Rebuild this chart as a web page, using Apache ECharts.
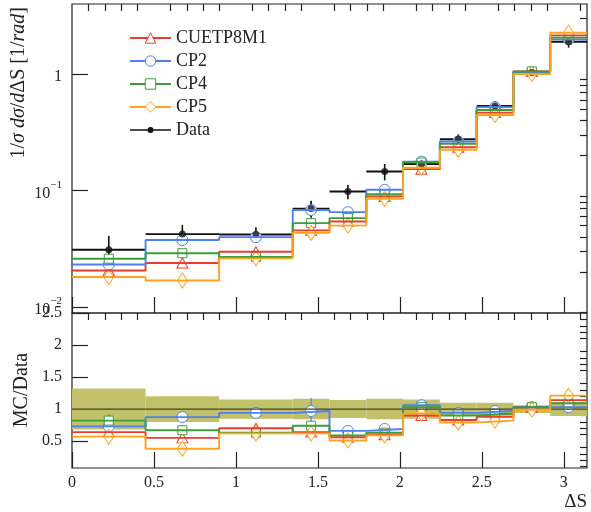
<!DOCTYPE html>
<html><head><meta charset="utf-8">
<script src="https://cdn.jsdelivr.net/npm/echarts@6/dist/echarts.min.js"></script>
<style>html,body{margin:0;padding:0;background:#fff}#c{width:591px;height:512px}</style>
</head><body><div id="c"></div>
<script>
const PI = Math.PI;
// bin edges of ΔS (0 .. π)
const binEdges = [0, PI/7, 2*PI/7, 3*PI/7, 7*PI/14, 8*PI/14, 9*PI/14, 10*PI/14, 11*PI/14, 12*PI/14, 13*PI/14, PI];
const seriesNames = ['CUETP8M1', 'CP2', 'CP4', 'CP5'];
// normalised cross sections (top panel)
const dataVals    = [0.0310, 0.0423, 0.0420, 0.0700, 0.0980, 0.1455, 0.1690, 0.2755, 0.532, 1.03, 1.89];
const dataRelErr  = [0.32, 0.20, 0.15, 0.16, 0.14, 0.16, 0.15, 0.10, 0.10, 0.06, 0.11];
const valCUETP8M1 = [0.0206, 0.0239, 0.0298, 0.0455, 0.0543, 0.0890, 0.1525, 0.235, 0.466, 1.05, 2.14];
const valCP2      = [0.0232, 0.0376, 0.0398, 0.0680, 0.0653, 0.1014, 0.1770, 0.263, 0.519, 1.04, 1.98];
const valCP4      = [0.0260, 0.0290, 0.0269, 0.0525, 0.0580, 0.0930, 0.1740, 0.2515, 0.491, 1.05, 2.05];
const valCP5      = [0.0181, 0.0169, 0.0262, 0.0434, 0.0500, 0.0849, 0.1570, 0.2235, 0.445, 1.00, 2.26];
// MC / Data ratios (bottom panel)
const ratioCUETP8M1 = [0.64, 0.55, 0.70, 0.64, 0.56, 0.60, 0.90, 0.83, 0.88, 1.03, 1.14];
const ratioCP2      = [0.73, 0.875, 0.94, 0.97, 0.66, 0.69, 1.06, 0.94, 0.97, 1.03, 1.03];
const ratioCP4      = [0.82, 0.67, 0.63, 0.74, 0.59, 0.63, 1.03, 0.90, 0.93, 1.03, 1.09];
const ratioCP5      = [0.57, 0.38, 0.62, 0.62, 0.51, 0.59, 0.93, 0.79, 0.82, 0.99, 1.21];
// MC statistical relative errors
const errCUETP8M1 = [0.04, 0.05, 0.05, 0.05, 0.03, 0.03, 0.03, 0.02, 0.02, 0.02, 0.02];
const errCP2      = [0.05, 0.10, 0.07, 0.21, 0.04, 0.04, 0.03, 0.02, 0.02, 0.02, 0.02];
const errCP4      = [0.12, 0.05, 0.05, 0.05, 0.04, 0.03, 0.03, 0.02, 0.02, 0.02, 0.02];
const errCP5      = [0.05, 0.05, 0.05, 0.05, 0.04, 0.04, 0.03, 0.03, 0.02, 0.02, 0.02];
// tick values
const xMajorTicks = [0, 0.5, 1, 1.5, 2, 2.5, 3];
const xMinorTicks = [0.1,0.2,0.3,0.4,0.6,0.7,0.8,0.9,1.1,1.2,1.3,1.4,1.6,1.7,1.8,1.9,2.1,2.2,2.3,2.4,2.6,2.7,2.8,2.9,3.1];
const yTopMajor = [0.01, 0.1, 1];
const yTopMinor = [0.009, 0.02,0.03,0.04,0.05,0.06,0.07,0.08,0.09, 0.2,0.3,0.4,0.5,0.6,0.7,0.8,0.9, 2,3];
const yTopRange = [0.0089, 3.98];
const yRatioMajor = [0.5, 1, 1.5, 2, 2.5];
const yRatioMinor = [0.1,0.2,0.3,0.4,0.6,0.7,0.8,0.9,1.1,1.2,1.3,1.4,1.6,1.7,1.8,1.9,2.1,2.2,2.3,2.4];
const yRatioRange = [0.08, 2.5];

const colors = ['#ee3b2b', '#4f80f2', '#3a9e3a', '#ffa31f'];
const symbols = ['triangle', 'circle', 'rect', 'diamond'];
const symSizes = [[11,10], 11, 9, [10,15]];
const mcVals = [valCUETP8M1, valCP2, valCP4, valCP5];
const mcRatios = [ratioCUETP8M1, ratioCP2, ratioCP4, ratioCP5];
const mcErrs = [errCUETP8M1, errCP2, errCP4, errCP5];

const FONT = 'Liberation Serif';
const L = Math.log10;
const nb = dataVals.length;
const centers = dataVals.map((v, i) => (binEdges[i] + binEdges[i + 1]) / 2);
const stepData = (vals, f) => binEdges.map((e, i) => [e, f(vals[Math.min(i, nb - 1)])]);

function errBarSeries(vals, errs, f, color, xi, yi, width) {
  return {
    type: 'custom', xAxisIndex: xi, yAxisIndex: yi, clip: true, silent: true,
    data: vals.map((v, i) => [centers[i], f(v * (1 - errs[i])), f(v * (1 + errs[i]))]),
    encode: { x: 0, y: [1, 2] },
    renderItem: (p, api) => {
      const a = api.coord([api.value(0), api.value(1)]);
      const b = api.coord([api.value(0), api.value(2)]);
      return { type: 'line', shape: { x1: a[0], y1: a[1], x2: b[0], y2: b[1] }, style: { stroke: color, lineWidth: width } };
    }
  };
}

const series = [];
// ---- top panel
mcVals.forEach((vals, k) => {
  series.push({
    name: seriesNames[k], type: 'line', step: 'end', xAxisIndex: 0, yAxisIndex: 0,
    data: stepData(vals, L), symbol: symbols[k], showSymbol: false, silent: true,
    lineStyle: { color: colors[k], width: 1.9 },
    itemStyle: { color: '#fff', borderColor: colors[k], borderWidth: 1 }
  });
});
mcVals.forEach((vals, k) => {
  series.push(errBarSeries(vals, mcErrs[k], L, colors[k], 0, 0, 1.2));
  series.push({
    name: seriesNames[k] + ' pts', type: 'scatter', xAxisIndex: 0, yAxisIndex: 0, silent: true,
    data: vals.map((v, i) => [centers[i], L(v)]), symbol: symbols[k], symbolSize: symSizes[k],
    itemStyle: { color: '#fff', borderColor: colors[k], borderWidth: 1, opacity: 1 }
  });
});
series.push({
  type: 'custom', xAxisIndex: 0, yAxisIndex: 0, clip: true, silent: true,
  data: dataVals.map((v, i) => [binEdges[i], binEdges[i + 1], centers[i], L(v), L(v * (1 - dataRelErr[i])), L(v * (1 + dataRelErr[i]))]),
  encode: { x: [0, 1, 2], y: [3, 4, 5] },
  renderItem: (p, api) => {
    const a = api.coord([api.value(0), api.value(3)]), b = api.coord([api.value(1), api.value(3)]);
    const lo = api.coord([api.value(2), api.value(4)]), hi = api.coord([api.value(2), api.value(5)]);
    return { type: 'group', children: [
      { type: 'line', shape: { x1: a[0], y1: a[1], x2: b[0], y2: b[1] }, style: { stroke: '#111', lineWidth: 1.9 } },
      { type: 'line', shape: { x1: lo[0], y1: lo[1], x2: hi[0], y2: hi[1] }, style: { stroke: '#111', lineWidth: 1.6 } }
    ] };
  }
});
series.push({
  name: 'Data pts', type: 'scatter', xAxisIndex: 0, yAxisIndex: 0, silent: true,
  data: dataVals.map((v, i) => [centers[i], L(v)]), symbol: 'circle', symbolSize: 7,
  itemStyle: { color: '#111' }
});
// ---- ratio panel
const lin = v => v;
series.push({
  type: 'custom', xAxisIndex: 2, yAxisIndex: 2, clip: true, silent: true,
  data: dataRelErr.map((e, i) => [binEdges[i], binEdges[i + 1], 1 - e, 1 + e]),
  encode: { x: [0, 1], y: [2, 3] },
  renderItem: (p, api) => {
    const a = api.coord([api.value(0), api.value(3)]), b = api.coord([api.value(1), api.value(2)]);
    return { type: 'rect', shape: { x: a[0], y: a[1], width: b[0] - a[0], height: b[1] - a[1] }, style: { fill: '#c3c06a' } };
  }
});
series.push({
  name: 'Data', type: 'line', step: 'end', xAxisIndex: 2, yAxisIndex: 2, silent: true,
  data: stepData(dataVals.map(v => v / v), lin), symbol: 'circle', showSymbol: false,
  lineStyle: { color: '#44422a', width: 1.3 }, itemStyle: { color: '#111' }
});
mcRatios.forEach((vals, k) => {
  series.push({
    name: seriesNames[k] + ' ratio', type: 'line', step: 'end', xAxisIndex: 2, yAxisIndex: 2, silent: true,
    data: stepData(vals, lin), showSymbol: false, symbol: 'none',
    lineStyle: { color: colors[k], width: 1.9 }
  });
});
mcRatios.forEach((vals, k) => {
  series.push(errBarSeries(vals, mcErrs[k], lin, colors[k], 2, 2, 1.2));
  series.push({
    name: seriesNames[k] + ' rpts', type: 'scatter', xAxisIndex: 2, yAxisIndex: 2, silent: true,
    data: vals.map((v, i) => [centers[i], v]), symbol: symbols[k], symbolSize: symSizes[k],
    itemStyle: { color: '#fff', borderColor: colors[k], borderWidth: 1, opacity: 1 }
  });
});

const tickStyle = { color: '#222', width: 1.2 };
function xAx(grid, custom, len, labels) {
  return {
    type: 'value', gridIndex: grid, min: 0, max: PI,
    axisLine: { show: false, onZero: false }, splitLine: { show: false },
    axisTick: { show: true, inside: true, length: len, customValues: custom, lineStyle: tickStyle },
    axisLabel: labels ? { show: true, customValues: xMajorTicks, formatter: v => String(+v.toFixed(1)), fontFamily: FONT, fontSize: 16, color: '#222', margin: 7 } : { show: false }
  };
}
function yAx(grid, range, custom, len, labels, fmt) {
  return {
    type: 'value', gridIndex: grid, min: range[0], max: range[1],
    axisLine: { show: false, onZero: false }, splitLine: { show: false },
    axisTick: { show: true, inside: true, length: len, customValues: custom, lineStyle: tickStyle },
    axisLabel: labels ? { show: true, customValues: labels, formatter: fmt, fontFamily: FONT, fontSize: 16, color: '#222', margin: 10,
      rich: { b: { fontFamily: FONT, fontSize: 16, lineHeight: 22, verticalAlign: 'bottom', color: '#222' }, s: { fontFamily: FONT, fontSize: 11, verticalAlign: 'top', color: '#222' } } } : { show: false }
  };
}
const topFmt = v => {
  const e = Math.round(v);
  return e === 0 ? '{b|1}' : '{b|10}{s|−' + Math.abs(e) + '}';
};
const ratioFmt = v => String(+v.toFixed(1));

const option = {
  animation: false,
  backgroundColor: '#fff',
  grid: [
    { left: 72, top: 4, width: 515, height: 309, show: true, borderColor: '#222', borderWidth: 1.2, backgroundColor: 'transparent' },
    { left: 72, top: 313, width: 515, height: 155, show: true, borderColor: '#222', borderWidth: 1.2, backgroundColor: 'transparent' }
  ],
  xAxis: [
    xAx(0, xMajorTicks, 16, false),
    xAx(0, xMinorTicks, 7, false),
    xAx(1, xMajorTicks, 16, true),
    xAx(1, xMinorTicks, 7, false)
  ],
  yAxis: [
    yAx(0, yTopRange.map(L), yTopMajor.map(L), 16, yTopMajor.map(L), topFmt),
    yAx(0, yTopRange.map(L), yTopMinor.map(L), 7, null),
    yAx(1, yRatioRange, yRatioMajor, 16, yRatioMajor, ratioFmt),
    yAx(1, yRatioRange, yRatioMinor, 7, null)
  ],
  legend: {
    left: 124, top: 24, orient: 'vertical', itemWidth: 41, itemHeight: 13, itemGap: 5,
    selectedMode: false,
    itemStyle: { borderWidth: 1 },
    textStyle: { fontFamily: FONT, fontSize: 18, color: '#222', lineHeight: 18 },
    data: seriesNames.concat([{ name: 'Data',
      icon: 'path://M0,0h0.05v0.05h-0.05Z M40.95,12.95h0.05v0.05h-0.05Z M0,5.7H17.5V7.3H0Z M23.5,5.7H41V7.3H23.5Z M23.5,6.5A3,3 0 1 1 17.5,6.5A3,3 0 1 1 23.5,6.5Z',
      itemStyle: { color: '#111', borderWidth: 0 } }])
  },
  graphic: [
    { type: 'text', x: 19, y: 7, rotation: PI / 2, silent: true,
      style: { text: '1/{i|σ} {i|dσ}/{i|d}ΔS [1/{i|rad}]', fontFamily: FONT, fontSize: 20, fill: '#222', align: 'right', verticalAlign: 'middle',
        rich: { i: { fontFamily: FONT, fontSize: 20, fontStyle: 'italic', fill: '#222' } } } },
    { type: 'text', x: 22, y: 390, rotation: PI / 2, silent: true,
      style: { text: 'MC/Data', fontFamily: FONT, fontSize: 20, fill: '#222', align: 'center', verticalAlign: 'middle' } },
    { type: 'text', x: 587, y: 502, silent: true,
      style: { text: 'ΔS', fontFamily: FONT, fontSize: 19, fill: '#222', align: 'right', verticalAlign: 'middle' } }
  ],
  series: series
};
const chart = echarts.init(document.getElementById('c'), null, { renderer: 'canvas' });
chart.setOption(option);
</script></body></html>
